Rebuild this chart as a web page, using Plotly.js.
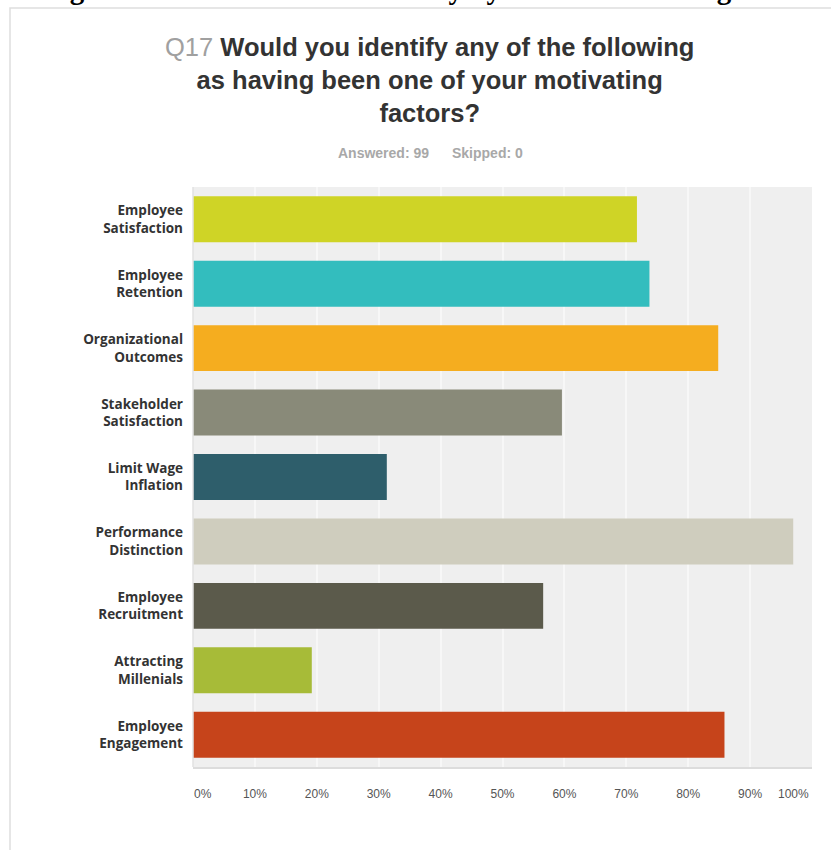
<!DOCTYPE html>
<html>
<head>
<meta charset="utf-8">
<script src="https://cdn.plot.ly/plotly-3.0.1.min.js"></script>
<style>
  html, body { margin: 0; padding: 0; background: #ffffff; }
  #chart { width: 831px; height: 850px; }
</style>
</head>
<body>
<div id="chart"></div>
<script>
// ---- data ----
const categories = [
  "Employee<br>Satisfaction",
  "Employee<br>Retention",
  "Organizational<br>Outcomes",
  "Stakeholder<br>Satisfaction",
  "Limit Wage<br>Inflation",
  "Performance<br>Distinction",
  "Employee<br>Recruitment",
  "Attracting<br>Millenials",
  "Employee<br>Engagement"
];
const percentages = [71.72, 73.74, 84.85, 59.60, 31.31, 96.97, 56.57, 19.19, 85.86];
const barColors = ["#cfd426", "#33bdbe", "#f5ad1f", "#898a79", "#2e5e6b", "#cfcdbe", "#5b5a4b", "#a7bb38", "#c6441b"];
const tickValues = [0, 10, 20, 30, 40, 50, 60, 70, 80, 90, 100];
const tickLabels = ["0%", "10%", "20%", "30%", "40%", "50%", "60%", "70%", "80%", "90%", "100%"];
const figureCaption = "Figure 3: Performance-Based Pay Systems - Motivating Factors";
const questionNumber = "Q17";
const questionText = "Would you identify any of the following<br>as having been one of your motivating<br>factors?";
const answeredText = "Answered: 99";
const skippedText = "Skipped: 0";

// ---- layout geometry (pixels) ----
const W = 831, H = 850;
const M = { l: 193, r: 19, t: 187, b: 83 };
const PW = W - M.l - M.r, PH = H - M.t - M.b;
const px = x => (x - M.l) / PW;          // pixel x -> paper x
const py = y => (H - M.b - y) / PH;      // pixel y -> paper y

// the first and last tick labels are drawn inward of their gridline (as the survey tool does)
const last = tickLabels.length - 1;
const shownTickText = tickLabels.map((t, i) => (i === 0 || i === last) ? "" : t);
const tickFont = { family: "Arial, 'Liberation Sans', sans-serif", size: 12, color: "#555" };
const edgeLabels = [
  { x: tickValues[0], text: tickLabels[0], xanchor: "left" },
  { x: tickValues[last], text: tickLabels[last], xanchor: "right" }
].map(e => ({
  xref: "x", yref: "paper", x: e.x, y: py(794), xanchor: e.xanchor, yanchor: "middle",
  xshift: e.xanchor === "left" ? 0 : -2,
  text: e.text, showarrow: false, borderpad: 0, font: tickFont
}));

const trace = {
  type: "bar",
  orientation: "h",
  x: percentages,
  y: categories,
  marker: { color: barColors, line: { width: 0 } },
  hoverinfo: "x+y"
};

const layout = {
  width: W,
  height: H,
  margin: M,
  paper_bgcolor: "#ffffff",
  plot_bgcolor: "#efefef",
  showlegend: false,
  bargap: 0.287,
  font: { family: "Arial, 'Liberation Sans', sans-serif", color: "#333" },
  xaxis: {
    range: [0, 100],
    tickvals: tickValues,
    ticktext: shownTickText,
    showgrid: true,
    gridcolor: "#f7f7f7",
    gridwidth: 2,
    zeroline: false,
    showline: true,
    linecolor: "#dcdcdc",
    linewidth: 2,
    ticks: "",
    ticklabelstandoff: 15,
    tickfont: tickFont,
    fixedrange: true
  },
  yaxis: {
    autorange: "reversed",
    showgrid: false,
    zeroline: false,
    showline: false,
    ticks: "",
    ticklabelstandoff: 9,
    tickfont: { family: "'Open Sans', Arial, sans-serif", size: 13.5, color: "#333", weight: "bold" },
    fixedrange: true
  },
  shapes: [
    {
      type: "rect", xref: "paper", yref: "paper",
      x0: px(10), x1: px(900), y0: py(900), y1: py(8),
      line: { color: "#dedede", width: 1.5 },
      fillcolor: "rgba(0,0,0,0)", layer: "below"
    },
    {
      type: "line", xref: "paper", yref: "paper",
      x0: 0, x1: 0, y0: 0, y1: 1,
      line: { color: "#e2e2e2", width: 1.5 }
    }
  ],
  annotations: [
    {
      xref: "paper", yref: "paper",
      x: px(43), y: py(-11), xanchor: "left", yanchor: "middle",
      text: "<b>" + figureCaption + "</b>",
      showarrow: false, borderpad: 0,
      font: { family: "'Liberation Serif', 'Times New Roman', serif", size: 29, color: "#000" }
    },
    {
      xref: "paper", yref: "paper",
      x: px(429), y: py(80), xanchor: "center", yanchor: "middle",
      text: "<span style='color:#a0a0a0'>" + questionNumber + "</span> <b>" + questionText + "</b>",
      showarrow: false, align: "center",
      font: { family: "Arial, 'Liberation Sans', sans-serif", size: 25.5, color: "#333" }
    },
    {
      xref: "paper", yref: "paper",
      x: px(383), y: py(153), xanchor: "center", yanchor: "middle",
      text: "<b>" + answeredText + "</b>",
      showarrow: false,
      font: { family: "Arial, 'Liberation Sans', sans-serif", size: 14, color: "#a8a8a8" }
    },
    {
      xref: "paper", yref: "paper",
      x: px(487), y: py(153), xanchor: "center", yanchor: "middle",
      text: "<b>" + skippedText + "</b>",
      showarrow: false,
      font: { family: "Arial, 'Liberation Sans', sans-serif", size: 14, color: "#a8a8a8" }
    }
  ].concat(edgeLabels)
};

Plotly.newPlot("chart", [trace], layout, { displayModeBar: false, staticPlot: true });
</script>
</body>
</html>
